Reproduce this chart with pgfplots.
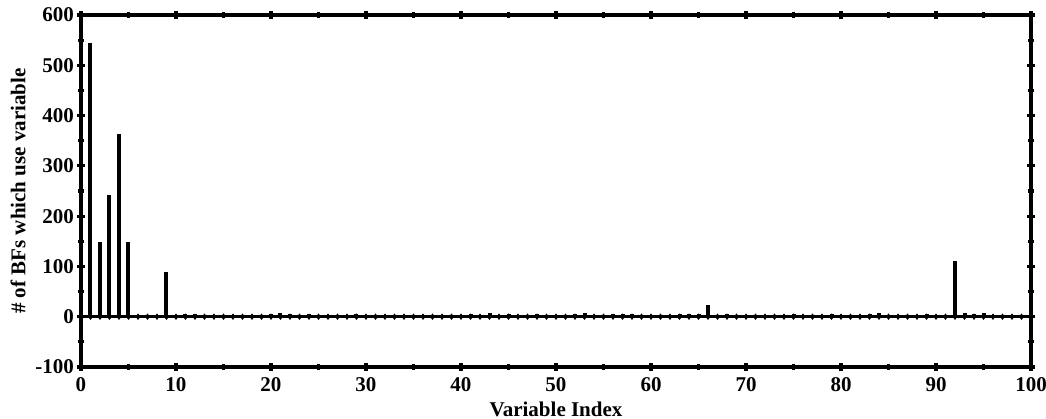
\documentclass[border=0pt]{standalone}
\usepackage{pgfplots}
\pgfplotsset{compat=1.18}
\usepackage{pgfplotstable}
\usepackage{fontspec}
\setmainfont{Liberation Serif}
\pgfplotstableread{
x y
1 545
2 148
3 242
4 363
5 148
6 0
7 0
8 0
9 88
10 0
11 6
12 5
13 0
14 0
15 0
16 0
17 0
18 1
19 0
20 5
21 7
22 6
23 2
24 6
25 1
26 4
27 0
28 1
29 5
30 0
31 0
32 1
33 0
34 0
35 0
36 1
37 0
38 0
39 0
40 1
41 6
42 1
43 7
44 1
45 6
46 0
47 1
48 5
49 0
50 0
51 1
52 6
53 7
54 0
55 1
56 5
57 6
58 6
59 1
60 4
61 0
62 1
63 6
64 5
65 6
66 24
67 1
68 5
69 0
70 0
71 0
72 1
73 0
74 1
75 5
76 0
77 0
78 1
79 5
80 0
81 0
82 1
83 6
84 7
85 0
86 0
87 1
88 0
89 6
90 0
91 1
92 110
93 7
94 6
95 7
96 1
97 0
98 0
99 0
100 0
}\datatable
\begin{document}
\bfseries
\begin{tikzpicture}
\begin{axis}[
  name=ax,
  scale only axis,
  width=475pt, height=176pt,
  xmin=0, xmax=100, ymin=-100, ymax=600,
  xtick={0,10,...,100}, ytick={-100,0,...,600},
  minor x tick num=1, minor y tick num=1,
  axis line style={line width=2pt},
  tick style={line width=1.6pt, black},
  major tick length=4pt, minor tick length=3pt,
  tick align=center,
  /pgf/number format/assume math mode=true,
  ticklabel style={font=\fontsize{10.5}{12}\selectfont\bfseries},
  xticklabel style={yshift=0.5pt},
  yticklabel style={xshift=2pt},
  label style={font=\fontsize{10.5}{12}\selectfont\bfseries},
  xlabel={Variable Index},
  ylabel={\# of BFs which use variable},
  xlabel style={at={(axis description cs:0.5,0)}, anchor=center, yshift=-21pt},
  ylabel style={at={(axis description cs:0,0.5)}, anchor=center, yshift=31.5pt},
  clip=false,
]
\addplot[ycomb, line width=2pt, black] table[x=x, y=y] {\datatable};
\addplot[line width=1.6pt, black] coordinates {(0,0) (100,0)};
\addplot[only marks, mark=diamond*, mark size=1.3pt, black] table[x=x, y expr=0] {\datatable};
\end{axis}
\pgfresetboundingbox
\path ([xshift=-40.5pt,yshift=-26pt]ax.south west) rectangle ([xshift=7.5pt,yshift=7.5pt]ax.north east);
\end{tikzpicture}
\end{document}
